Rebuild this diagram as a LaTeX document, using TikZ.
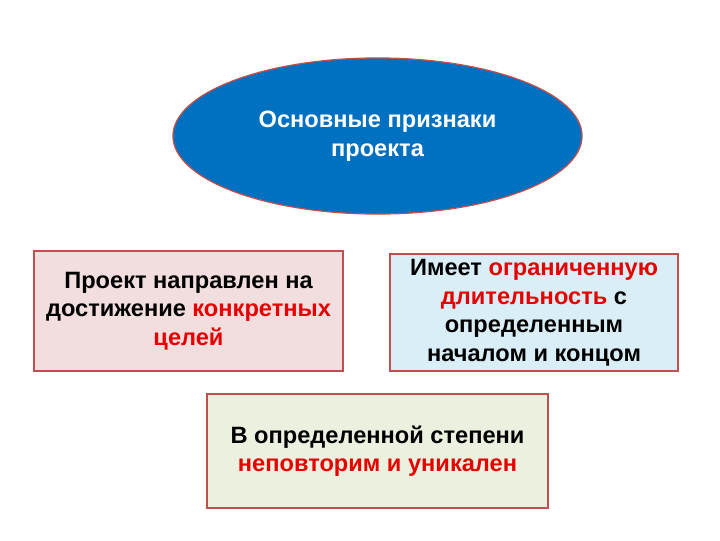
\documentclass[tikz,border=0pt]{standalone}
\usepackage{fontspec}
\setmainfont{Liberation Sans}
\usepackage{xcolor}
\usetikzlibrary{shapes.geometric}

\definecolor{ovalblue}{RGB}{0,112,192}
\definecolor{edgered}{RGB}{192,80,77}
\definecolor{hotred}{RGB}{230,0,0}
\definecolor{pinkfill}{RGB}{242,222,222}
\definecolor{bluefill}{RGB}{218,238,248}
\definecolor{greenfill}{RGB}{235,241,222}

\newcommand{\hot}[1]{\textcolor{hotred}{#1}}

\begin{document}
\begin{tikzpicture}[x=0.025cm, y=-0.025cm,
    every node/.style={font=\bfseries\fontsize{16.8}{20.3}\selectfont, align=center, inner sep=0pt},
    sign/.style={draw=edgered, line width=1.3pt, rectangle}]
    \useasboundingbox (0,0) rectangle (720,540);
    \node[ellipse, draw=edgered, line width=0.9pt, fill=ovalblue, text=white,
        minimum width=10.225cm, minimum height=3.9cm] (main) at (377.5,136)
        {Основные признаки\\проекта};
    \node[sign, fill=pinkfill, minimum width=7.725cm, minimum height=3cm] (goals) at (188.5,311)
        {Проект направлен на\\достижение \hot{конкретных}\\\hot{целей}};
    \node[sign, fill=bluefill, minimum width=7.2cm, minimum height=2.925cm] (time) at (534,312.5)
        {Имеет \hot{ограниченную}\\\hot{длительность} с\\определенным\\началом и концом};
    \node[sign, fill=greenfill, minimum width=8.525cm, minimum height=2.85cm] (unique) at (377.5,451)
        {В определенной степени\\\hot{неповторим и уникален}};
\end{tikzpicture}
\end{document}
